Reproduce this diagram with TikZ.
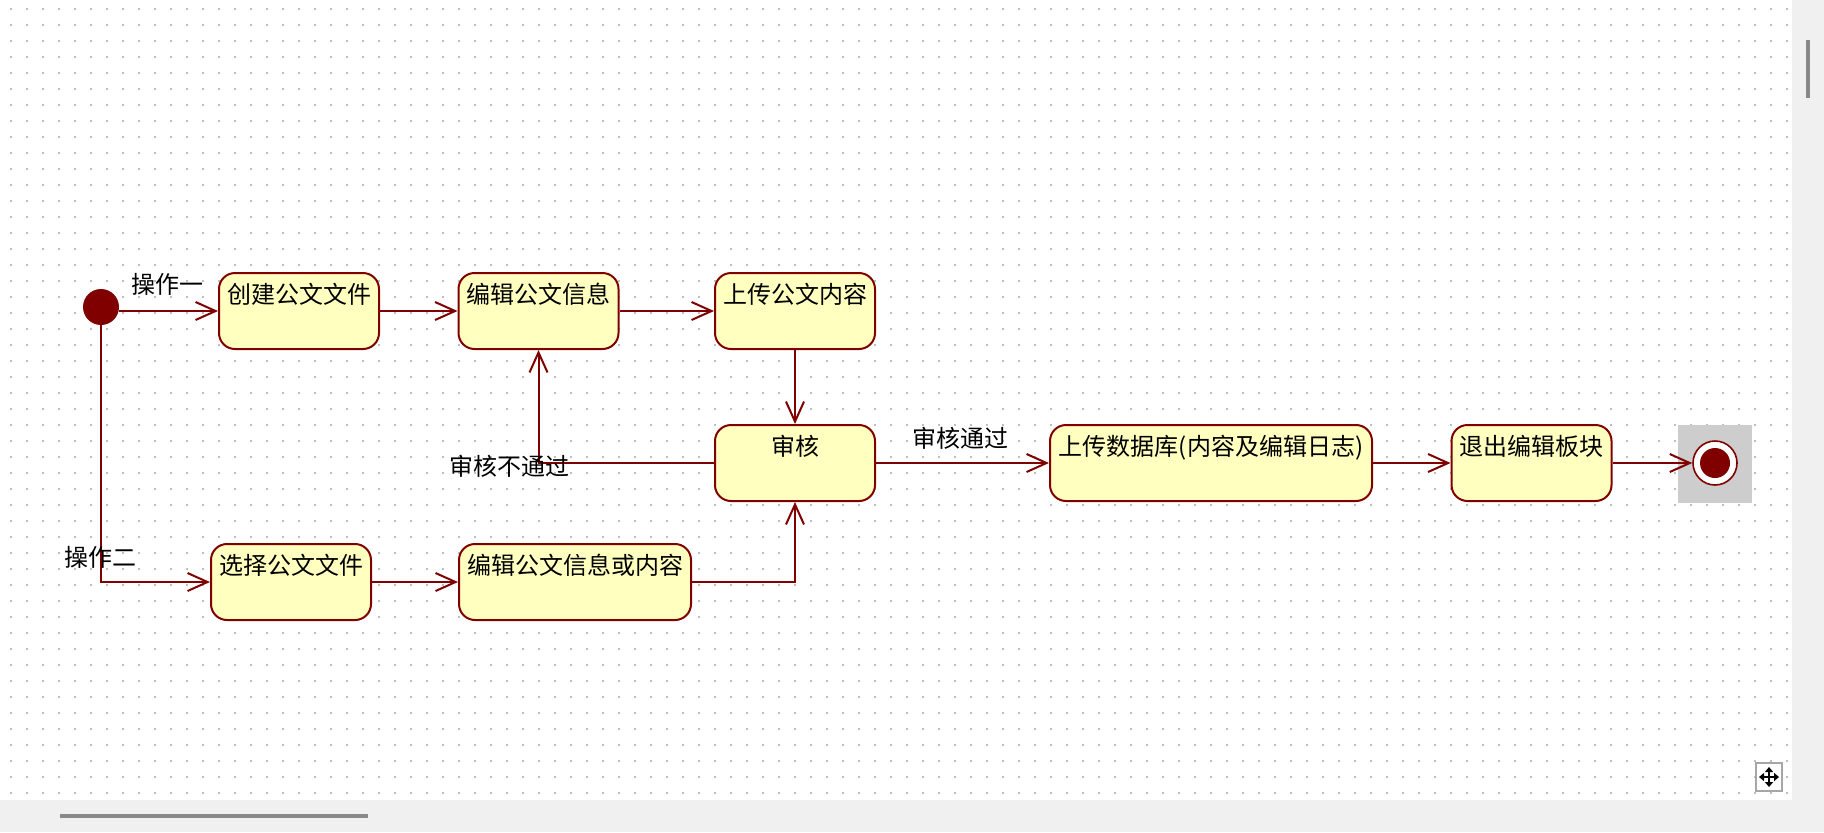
\documentclass[tikz,border=0pt]{standalone}
\usepackage{fontspec}
\newfontfamily\cjk{Noto Sans CJK SC}
\usetikzlibrary{arrows.meta}
\definecolor{umlred}{HTML}{800000}
\definecolor{umlfill}{HTML}{FFFFC0}
\definecolor{dotgray}{HTML}{BEBEBE}
\definecolor{uibg}{HTML}{F0F0F0}
\definecolor{thumbgray}{HTML}{888888}
\definecolor{selgray}{HTML}{CDCDCD}
\begin{document}
\begin{tikzpicture}[x=0.5pt,y=-0.5pt,
  state/.style={draw=umlred, line width=1pt, fill=umlfill, rounded corners=8pt,
    minimum width=80pt, text height=15pt, text depth=23pt, inner ysep=0pt, inner xsep=4pt,
    font=\cjk\fontsize{12pt}{14pt}\selectfont, text=black},
  lbl/.style={font=\cjk\fontsize{12pt}{14pt}\selectfont, inner sep=0pt, text=black},
  arr/.style={draw=umlred, line width=1pt, -{Straight Barb[length=10pt,width=9pt]}},
  uithumb/.style={fill=thumbgray},
]
\useasboundingbox (0,0) rectangle (1824,832);
\fill[uibg] (0,0) rectangle (1824,832);
\fill[white] (0,0) rectangle (1792,800);
\foreach \k in {0,...,49}
  \draw[dotgray, line width=1pt, dash pattern=on 1pt off 7pt] (10,{9+16*\k}) -- (1790,{9+16*\k});

% final state selection mark
\fill[selgray] (1678,425) rectangle (1752,503);

% states
\node[state] (b1) at (299,311) {创建公文文件};
\node[state] (b2) at (538.5,311) {编辑公文信息};
\node[state] (b3) at (795,311) {上传公文内容};
\node[state] (rev) at (795,463) {审核};
\node[state, minimum width=161pt] (db) at (1211,463) {上传数据库(内容及编辑日志)};
\node[state] (quit) at (1531.5,463) {退出编辑板块};
\node[state] (sel) at (291,582) {选择公文文件};
\node[state, minimum width=115.5pt] (b5) at (575,582) {编辑公文信息或内容};

\node[circle, fill=umlred, minimum size=18pt, inner sep=0pt] (init) at (101,307) {};
\node[circle, draw=umlred, fill=white, line width=0.8pt, minimum size=22pt, inner sep=0pt] (fin) at (1715,463) {};
\fill[umlred] (fin.center) circle (7.5pt);

% transitions
\draw[arr] (init.east |- b1.west) -- (b1.west);
\draw[arr] (b1) -- (b2);
\draw[arr] (b2) -- (b3);
\draw[arr] (b3) -- (rev);
\draw[arr] (rev.west) -| (b2.south);
\draw[arr] (rev) -- (db);
\draw[arr] (db) -- (quit);
\draw[arr] (quit) -- (fin);
\draw[arr] (init.south) |- (sel.west);
\draw[arr] (sel) -- (b5);
\draw[arr] (b5.east) -| (rev.south);

% labels
\node[lbl] (l1) at (167,284) {操作一};
\node[lbl] (l2) at (100,557) {操作二};
\node[lbl] (l3) at (509,466) {审核不通过};
\node[lbl] (l4) at (960,438) {审核通过};

% window chrome
\fill[uithumb] (60,814) rectangle (368,818);
\fill[uithumb] (1806,40) rectangle (1810,98);
\draw[draw=gray!70, line width=1pt, fill=white] (1756,763) rectangle (1782,791);
\draw[line width=1pt, {Triangle[length=2.5pt,width=4pt]}-{Triangle[length=2.5pt,width=4pt]}] (1759,777) -- (1779,777);
\draw[line width=1pt, {Triangle[length=2.5pt,width=4pt]}-{Triangle[length=2.5pt,width=4pt]}] (1769,767) -- (1769,787);
\end{tikzpicture}
\end{document}
